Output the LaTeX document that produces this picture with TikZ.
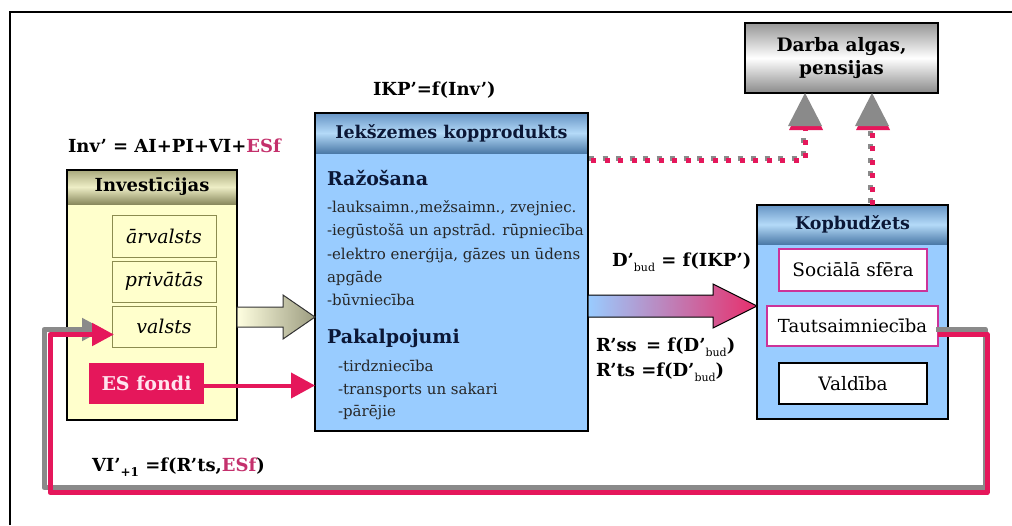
\documentclass[tikz,border=0pt]{standalone}
\usepackage{fontspec}
\setmainfont{DejaVu Serif}
\usetikzlibrary{calc,arrows.meta}
\definecolor{pinkc}{HTML}{E5175B}
\definecolor{magc}{HTML}{C4306C}
\definecolor{subpink}{HTML}{CC3399}
\definecolor{ltblue}{HTML}{99CCFF}
\definecolor{ltyellow}{HTML}{FFFFCC}
\definecolor{loopgray}{HTML}{8A8A8A}
\definecolor{navy}{HTML}{0B1736}
\definecolor{olivedark}{HTML}{8A8A5E}
\definecolor{olivelight}{HTML}{EEEEC6}
\definecolor{olivemid}{HTML}{A9A97C}
\definecolor{bluetop}{HTML}{6694C4}
\definecolor{bluemid}{HTML}{B4DAF8}
\definecolor{bluebot}{HTML}{4C7AA8}
\definecolor{subolive}{HTML}{8C8C50}
\definecolor{arrolive}{HTML}{9C9C80}
\definecolor{esftext}{HTML}{FFE4EE}
\newcommand{\fs}[1]{\fontsize{#1}{#1}\selectfont}
\newcommand{\bsub}{\raisebox{-5pt}{\fs{11}\mdseries bud}}
\begin{document}
\begin{tikzpicture}[x=1pt,y=-1pt,
  every node/.style={inner sep=0pt, outer sep=0pt},
  panelfill/.style={anchor=north west},
  hdr/.style={anchor=north, font=\fs{17.5}\bfseries},
  sub/.style={draw=subolive, line width=0.8pt, fill=ltyellow, anchor=north west, font=\fs{19}\itshape},
  kbox/.style={draw=subpink, line width=1.2pt, fill=white, anchor=north west, font=\fs{18.5}},
  formula/.style={font=\fs{18}\bfseries, anchor=west},
  listtxt/.style={font=\fs{15}, anchor=west, text=black!85},
  listhead/.style={font=\fs{19}\bfseries, anchor=west, text=navy},
  dots/.style={line width=5pt, dash pattern=on 5pt off 8.5pt},
  loopline/.style={line width=5pt, line join=round, -{Triangle[length=22pt,width=22pt]}},
  blockedge/.style={draw=black!80, line width=1pt, line join=miter}
]
\useasboundingbox (0,0) rectangle (1012,525);
\fill[white] (0,0) rectangle (1012,525);
% frame
\draw[line width=2.5pt] (10,525) -- (10,12) -- (1012,12);

% ---------- Investicijas panel
\node[panelfill, fill=ltyellow, minimum width=170pt, minimum height=250pt] (inv) at (67,170) {};
\node[hdr, font=\fs{18}\bfseries, top color=olivemid, bottom color=olivedark, middle color=olivelight,
      minimum width=170pt, minimum height=34pt] (invh) at (inv.north) {Investīcijas};
\draw[line width=1.2pt] (inv.north west) rectangle (inv.south east);
\node[sub, minimum width=104pt, minimum height=42pt] (arv) at (112,215) {ārvalsts};
\node[sub, minimum width=104pt, minimum height=41pt] (priv) at (112,261) {privātās};
\node[sub, minimum width=104pt, minimum height=41pt] (valsts) at (112,306) {valsts};
\node[anchor=north west, fill=pinkc, minimum width=115pt, minimum height=41pt,
      font=\fs{19}\bfseries, text=esftext] (esf) at (89,363) {ES fondi};

% ---------- IKP panel
\node[panelfill, fill=ltblue, minimum width=273pt, minimum height=318pt] (ikp) at (315,113) {};
\node[hdr, top color=bluetop, bottom color=bluebot, middle color=bluemid, text=navy,
      minimum width=273pt, minimum height=40pt] (ikph) at (ikp.north) {Iekšzemes kopprodukts};
\draw[line width=1.5pt] (ikp.north west) rectangle (ikp.south east);
\node[listhead] (raz) at (327,178) {Ražošana};
\node[listtxt] (l1) at (327,208) {-lauksaimn.,mežsaimn., zvejniec.};
\node[listtxt] (l2) at (327,231) {-iegūstošā un apstrād. rūpniecība};
\node[listtxt] (l3) at (327,255) {-elektro enerģija, gāzes un ūdens};
\node[listtxt] (l4) at (327,278) {apgāde};
\node[listtxt] (l5) at (327,300) {-būvniecība};
\node[listhead] (pak) at (327,338) {Pakalpojumi};
\node[listtxt] (l6) at (338,366) {-tirdzniecība};
\node[listtxt] (l7) at (338,390) {-transports un sakari};
\node[listtxt] (l8) at (338,413) {-pārējie};

% ---------- Kopbudzets panel
\node[panelfill, fill=ltblue, minimum width=191pt, minimum height=214pt] (kop) at (757,205) {};
\node[hdr, top color=bluetop, bottom color=bluebot, middle color=bluemid, text=navy,
      minimum width=191pt, minimum height=39pt] (koph) at (kop.north) {Kopbudžets};
\draw[line width=1.5pt] (kop.north west) rectangle (kop.south east);
\node[kbox, minimum width=148pt, minimum height=42pt] (soc) at (779,249) {Sociālā sfēra};
\node[kbox, font=\fs{18}, minimum width=171pt, minimum height=40pt] (taut) at (767,306) {Tautsaimniecība};
\node[kbox, draw=black, minimum width=148pt, minimum height=41pt] (vald) at (779,363) {Valdība};

% ---------- Darba algas box
\node[anchor=north west, draw=black, line width=2pt, top color=loopgray!90, bottom color=loopgray, middle color=white,
      minimum width=193pt, minimum height=70pt, align=center, font=\fs{18.5}\bfseries] (darba) at (745,23)
      {Darba algas,\\[5pt]pensijas};

% ---------- formulas
\node[formula] (invf) at (68,146) {Inv’ = AI+PI+VI+\textcolor{magc}{ESf}};
\node[formula] (ikpf) at (373,90) {IKP’=f(Inv’)};
\node[formula] (dbud) at (612,262) {D’\bsub{} = f(IKP’)};
\node[formula] (rss) at (596,347) {R’ss \,= f(D’\bsub)};
\node[formula] (rts) at (596,372) {R’ts =f(D’\bsub)};
\node[formula] (vif) at (92,467) {VI’\raisebox{-5pt}{\fs{12}+1} =f(R’ts,\textcolor{magc}{ESf})};

% ---------- block arrow Investicijas -> IKP
\coordinate (a1t) at ($(inv.east)+(0,22)$);
\coordinate (a1h) at (a1t -| ikp.west);
\path[blockedge, left color=ltyellow!60, right color=arrolive]
  ($(a1t)+(0,-10)$) -- ($(a1h)+(-32,-10)$) -- ($(a1h)+(-32,-22)$) -- (a1h)
  -- ($(a1h)+(-32,22)$) -- ($(a1h)+(-32,10)$) -- ($(a1t)+(0,10)$) -- cycle;

% ---------- block arrow IKP -> Kopbudzets
\coordinate (a2h) at ($(kop.west)+(0,-6)$);
\coordinate (a2t) at (a2h -| ikp.east);
\path[blockedge, draw=black, left color=ltblue, right color=pinkc!90]
  ($(a2t)+(0,-11)$) -- ($(a2h)+(-44,-11)$) -- ($(a2h)+(-44,-22)$) -- (a2h)
  -- ($(a2h)+(-44,22)$) -- ($(a2h)+(-44,11)$) -- ($(a2t)+(0,11)$) -- cycle;

% ---------- ES fondi -> IKP
\draw[pinkc, line width=4pt, -{Triangle[length=24pt,width=25pt]}] ($(esf.east)+(0,2)$) -- ($(esf.east -| ikp.west)+(0,2)$);

% ---------- feedback loop Tautsaimnieciba -> valsts
\begin{scope}[transform canvas={shift={(-6pt,5pt)}}]
\draw[loopline, loopgray] ($(taut.east)+(4,8)$) -- ++(49,0) |- ($(valsts.west)+(-62,166)$)
   -- ($(valsts.west)+(-62,8)$) -- ($(valsts.west)+(-2,8)$);
\end{scope}
\draw[loopline, pinkc] ($(taut.east)+(0,8)$) -- ++(49,0) |- ($(valsts.west)+(-62,166)$)
   -- ($(valsts.west)+(-62,8)$) -- ($(valsts.west)+(2,8)$);

% ---------- dotted connectors to Darba algas
\coordinate (d1) at ($(darba.south west)+(60,34)$);
\coordinate (d2) at ($(kop.north west)+(115,0)$);
\begin{scope}[transform canvas={shift={(-2pt,2pt)}}]
\draw[dots, loopgray] ($(ikp.north east)+(3,47)$) -| (d1);
\draw[dots, loopgray] (d2) -- (d2 |- d1);
\end{scope}
\draw[dots, pinkc] ($(ikp.north east)+(3,47)$) -| (d1);
\draw[dots, pinkc] (d2) -- (d2 |- d1);
% arrow heads
\fill[pinkc] ($(darba.south west)+(61,3)$) -- ++(-17,34) -- ++(34,0) -- cycle;
\fill[loopgray] ($(darba.south west)+(60,0)$) -- ++(-17,33) -- ++(34,0) -- cycle;
\fill[pinkc] ($(d2 |- darba.south)+(1,3)$) -- ++(-17,34) -- ++(34,0) -- cycle;
\fill[loopgray] (d2 |- darba.south) -- ++(-17,33) -- ++(34,0) -- cycle;
\end{tikzpicture}
\end{document}
